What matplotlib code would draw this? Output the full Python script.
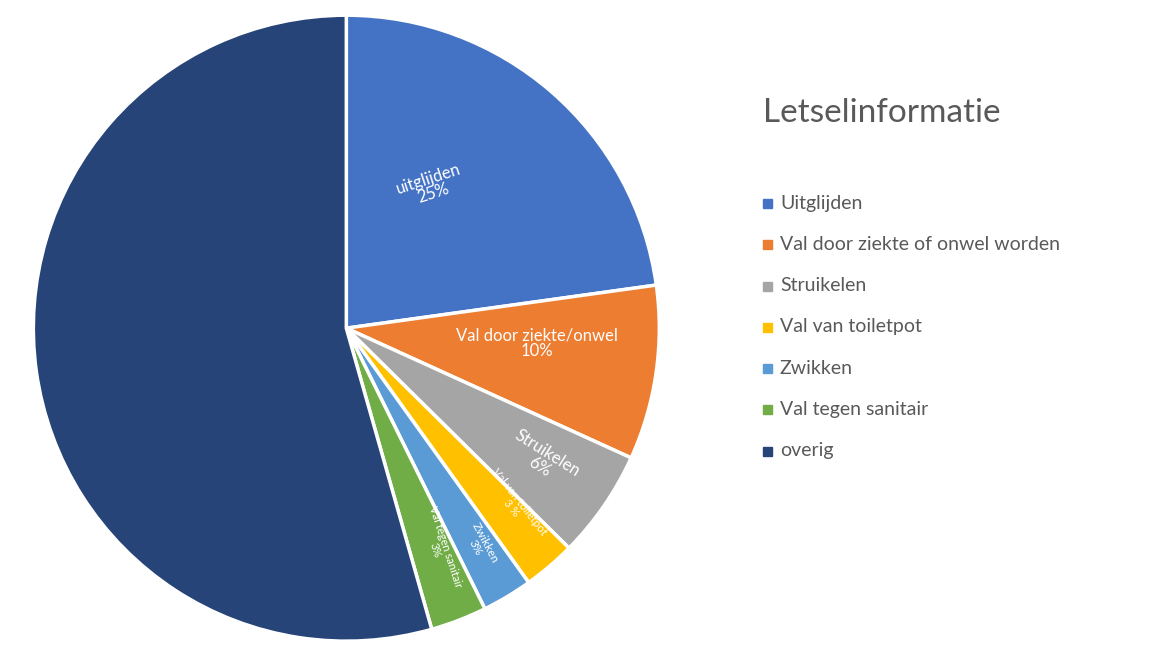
import matplotlib.pyplot as plt
from matplotlib.patches import Rectangle

categories = ['Uitglijden', 'Val door ziekte of onwel worden', 'Struikelen',
              'Val van toiletpot', 'Zwikken', 'Val tegen sanitair', 'overig']
values = [22.8, 9.0, 5.6, 2.7, 2.6, 2.9, 54.4]
slice_labels = ['uitglijden\n25%', 'Val door ziekte/onwel\n10%', 'Struikelen\n6%',
                'Val van toiletpot\n3 %', 'Zwikken\n3%', 'Val tegen sanitair\n3%', '']
colors = ['#4472C4', '#ED7D31', '#A5A5A5', '#FFC000', '#5B9BD5', '#70AD47', '#264478']

plt.rcParams['font.family'] = 'Lato'
fig = plt.figure(figsize=(11.7, 6.59), dpi=100)
ax = fig.add_axes([0.296 - 0.2675, 0.502 - 0.475, 0.535, 0.95])
ax.pie(values, colors=colors, startangle=90, counterclock=False,
       wedgeprops=dict(edgecolor='white', linewidth=2.5))
ax.set_xlim(-1, 1)
ax.set_ylim(-1, 1)
ax.set_aspect('equal')

# label positions (px in reference) and rotation
label_px = [(430, 186, 18, 12), (537, 343, 0, 12), (543, 460, -32, 12),
            (515, 505, -52, 8), (480, 545, -62, 8.5), (440, 548, -72, 8)]
for (px, py, rot, fs), txt in zip(label_px, slice_labels):
    ax.text((px - 346) / 313, (328 - py) / 313, txt, ha='center', va='center',
            rotation=rot, color='white', fontsize=fs, linespacing=0.95)

fig.text(763 / 1170, 1 - 113 / 659, 'Letselinformatie', fontsize=24,
         color='#595959', va='center')
for i, (cat, c) in enumerate(zip(categories, colors)):
    y = 1 - (203 + i * 41.3) / 659
    fig.patches.append(Rectangle((763 / 1170, y - 0.0075), 0.0077, 0.0137,
                                 transform=fig.transFigure, color=c))
    fig.text(780 / 1170, y, cat, fontsize=14, color='#595959', va='center')

fig.savefig('out.png')
